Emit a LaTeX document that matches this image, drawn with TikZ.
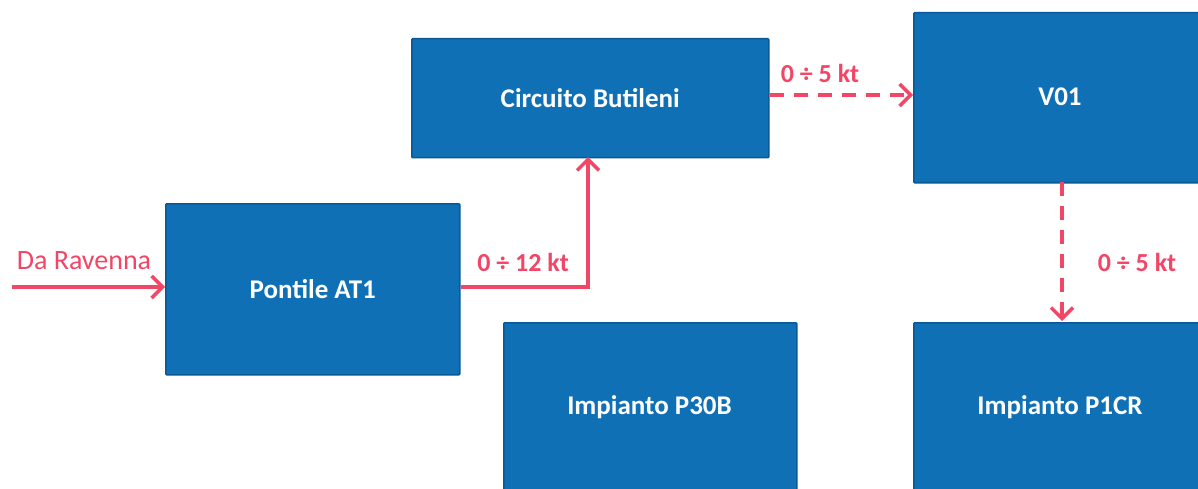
\documentclass[tikz,border=0pt]{standalone}
\usepackage{fontspec}
\setmainfont{Carlito}
\usetikzlibrary{arrows.meta}
\definecolor{boxblue}{RGB}{16,112,181}
\definecolor{boxedge}{RGB}{10,88,150}
\definecolor{flowred}{RGB}{242,70,102}
\tikzset{
  blk/.style={draw=boxedge, line width=1.5pt, fill=boxblue, anchor=north west, inner sep=0pt, rounded corners=1pt},
  btxt/.style={text=white, font=\fontsize{27}{32}\selectfont\bfseries, inner sep=0pt},
  flow/.style={draw=flowred, line width=3.5pt, -{Straight Barb[length=11pt,width=22pt,line width=3.5pt]}},
  dflow/.style={flow, dash pattern=on 14pt off 10pt},
  lbl/.style={text=flowred, font=\fontsize{26}{30}\selectfont\bfseries, inner sep=0pt},
  lblr/.style={text=flowred, font=\fontsize{28}{32}\selectfont, inner sep=0pt}
}
\begin{document}
\begin{tikzpicture}[x=1pt,y=-1pt]
\useasboundingbox (0,0) rectangle (1198,489);
\fill[white] (0,0) rectangle (1198,489);
\node[blk, minimum width=357pt, minimum height=119pt] (cb) at (411,38) {};
\node[btxt] at (cb.center) {Circuito Butileni};
\node[blk, minimum width=296pt, minimum height=170pt] (v01) at (913,12) {};
\node[btxt] at (1060,97) {V01};
\node[blk, minimum width=294pt, minimum height=171pt] (pa) at (165,203) {};
\node[btxt] at (pa.center) {Pontile AT1};
\node[blk, minimum width=293pt, minimum height=172pt] (p30) at (503,322) {};
\node[btxt] at (649.5,407) {Impianto P30B};
\node[blk, minimum width=296pt, minimum height=172pt] (p1) at (913,322) {};
\node[btxt] at (1060,407) {Impianto P1CR};
\coordinate (src) at (12,287);
\draw[flow] (src) -- (pa.west |- src);
\node[lblr] at (84,261) {Da Ravenna};
\draw[flow] (pa.east |- src) -- (588,287) -- (588,157);
\node[lbl] at (523,262) {0 ÷ 12 kt};
\draw[dflow] (cb.east |- 0,95) -- (v01.west |- 0,95);
\node[lbl] at (820,73) {0 ÷ 5 kt};
\draw[dflow] (1062,182) -- (1062,321);
\node[lbl] at (1137,262) {0 ÷ 5 kt};
\end{tikzpicture}
\end{document}
